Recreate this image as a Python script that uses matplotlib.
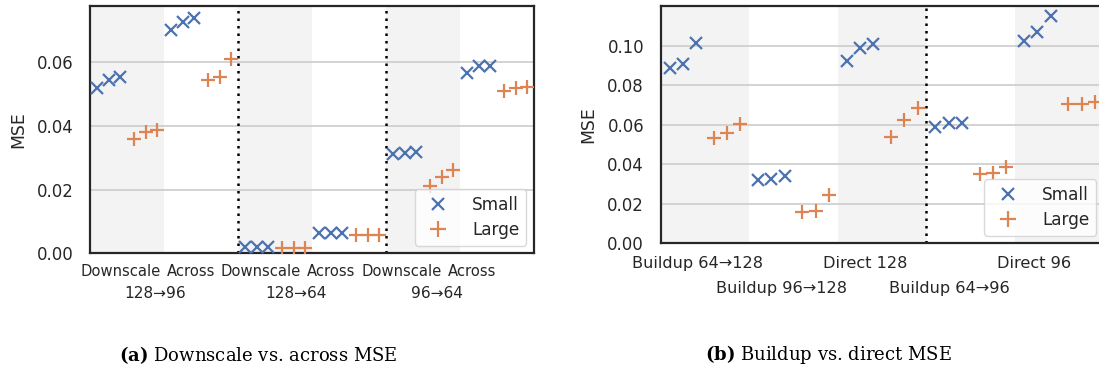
import matplotlib
matplotlib.use("Agg")
import matplotlib.pyplot as plt
from matplotlib.lines import Line2D

# ---------------- data ----------------
# (a) Downscale vs. across
a_cats = ["Downscale", "Across", "Downscale", "Across", "Downscale", "Across"]
a_groups = ["128→96", "128→64", "96→64"]
a_small = [
    [0.0518, 0.0546, 0.0555],
    [0.0703, 0.0727, 0.0738],
    [0.0021, 0.0021, 0.0021],
    [0.0063, 0.0063, 0.0063],
    [0.0312, 0.0315, 0.0317],
    [0.0568, 0.0589, 0.0589],
]
a_large = [
    [0.0358, 0.0380, 0.0387],
    [0.0544, 0.0553, 0.0610],
    [0.0016, 0.0016, 0.0016],
    [0.0057, 0.0057, 0.0057],
    [0.0212, 0.0240, 0.0262],
    [0.0510, 0.0520, 0.0523],
]
a_yticks = [0.00, 0.02, 0.04, 0.06]

# (b) Buildup vs. direct
b_cats = ["Buildup 64→128", "Buildup 96→128", "Direct 128", "Buildup 64→96", "Direct 96"]
b_small = [
    [0.0888, 0.0905, 0.1015],
    [0.0320, 0.0325, 0.0342],
    [0.0922, 0.0986, 0.1007],
    [0.0587, 0.0607, 0.0610],
    [0.1023, 0.1069, 0.1150],
]
b_large = [
    [0.0534, 0.0559, 0.0603],
    [0.0157, 0.0163, 0.0244],
    [0.0539, 0.0624, 0.0686],
    [0.0351, 0.0357, 0.0384],
    [0.0703, 0.0706, 0.0716],
]
b_yticks = [0.00, 0.02, 0.04, 0.06, 0.08, 0.10]

# ---------------- style ----------------
BLUE = "#4c72b0"
ORANGE = "#dd8452"
TXT = "#262626"
SHADE = "#f3f3f3"
GRID = "#cccccc"
YFS = 11.9
plt.rcParams["font.family"] = ["DejaVu Sans"]
plt.rcParams["mathtext.fontset"] = "custom"
plt.rcParams["mathtext.rm"] = "DejaVu Serif"
plt.rcParams["mathtext.bf"] = "DejaVu Serif:bold"

small_off = [-0.40, -0.25, -0.10]
large_off = [0.10, 0.25, 0.40]

W, H = 1099, 368
fig = plt.figure(figsize=(W / 100, H / 100), dpi=100)


def px_axes(x0, x1, ytop, ybot):
    return fig.add_axes([x0 / W, 1 - ybot / H, (x1 - x0) / W, (ybot - ytop) / H])


def style(ax, yticks, ymax, ncat):
    ax.set_xlim(-0.5, ncat - 0.5)
    ax.set_ylim(0, ymax)
    ax.set_yticks(yticks)
    ax.set_yticklabels([f"{v:.2f}" for v in yticks])
    ax.yaxis.grid(True, color=GRID, linewidth=1.2, zorder=0.5)
    ax.set_axisbelow(True)
    for s in ax.spines.values():
        s.set_color(TXT)
        s.set_linewidth(1.6)
    ax.tick_params(axis="y", length=0, pad=12, labelsize=YFS, colors=TXT)
    ax.tick_params(axis="x", which="both", length=0, colors=TXT)
    ax.set_ylabel("MSE", fontsize=12.4, color=TXT, labelpad=7)
    for i in range(0, ncat, 2):
        ax.axvspan(i - 0.5, i + 0.5, color=SHADE, zorder=0, lw=0)


def points(ax, small, large):
    for i, (sv, lv) in enumerate(zip(small, large)):
        ax.plot([i + o for o in small_off], sv, ls="none", marker="x",
                color=BLUE, ms=8.5, mew=1.6, zorder=3)
        ax.plot([i + o for o in large_off], lv, ls="none", marker="+",
                color=ORANGE, ms=10, mew=1.6, zorder=3)


def legend(ax):
    handles = [
        Line2D([], [], ls="none", marker="x", color=BLUE, ms=9, mew=1.6),
        Line2D([], [], ls="none", marker="+", color=ORANGE, ms=11, mew=1.6),
    ]
    leg = ax.legend(handles, ["Small", "Large"], loc="lower right", fontsize=12.2,
                    frameon=True, fancybox=True, framealpha=0.8,
                    edgecolor="#d0d0d0", borderaxespad=0.45, handletextpad=1.0,
                    labelspacing=0.4)
    for t in leg.get_texts():
        t.set_color(TXT)


# ---------------- (a) ----------------
axa = px_axes(90, 534, 6, 253.3)
style(axa, a_yticks, 0.0777, len(a_cats))
points(axa, a_small, a_large)
for x in [1.5, 3.5]:
    axa.axvline(x, color="black", ls=(0, (1, 2)), lw=1.8, zorder=2)
a_tickpos = [-0.09, 0.86, 1.81, 2.76, 3.71, 4.66]
axa.set_xticks(a_tickpos)
axa.set_xticklabels(a_cats)
axa.set_xticks([(a_tickpos[2 * g] + a_tickpos[2 * g + 1]) / 2 for g in range(3)], minor=True)
axa.set_xticklabels(a_groups, minor=True)
axa.tick_params(axis="x", which="major", pad=7.8, labelsize=10.6)
axa.tick_params(axis="x", which="minor", pad=23.5, labelsize=11.1)
legend(axa)

# ---------------- (b) ----------------
axb = px_axes(660.7, 660.7 + 5 * 88.6, 6, 243.3)
style(axb, b_yticks, 0.120, len(b_cats))
points(axb, b_small, b_large)
axb.axvline(2.5, color="black", ls=(0, (1, 2)), lw=1.8, zorder=2)
b_tickpos = [-0.09, 0.86, 1.81, 2.76, 3.71]
axb.set_xticks(b_tickpos[0::2])
axb.set_xticklabels(b_cats[0::2])
axb.set_xticks(b_tickpos[1::2], minor=True)
axb.set_xticklabels(b_cats[1::2], minor=True)
axb.tick_params(axis="x", which="major", pad=9.2, labelsize=11.6)
axb.tick_params(axis="x", which="minor", pad=27.5, labelsize=11.6)
legend(axb)

# ---------------- captions ----------------
fig.text(258 / W, 1 - 355 / H, r"$\mathbf{(a)}$ Downscale vs. across MSE",
         ha="center", va="center", fontsize=13, family="DejaVu Serif", color="black")
fig.text(828 / W, 1 - 355 / H, r"$\mathbf{(b)}$ Buildup vs. direct MSE",
         ha="center", va="center", fontsize=13, family="DejaVu Serif", color="black")

fig.savefig("out.png", dpi=100)
